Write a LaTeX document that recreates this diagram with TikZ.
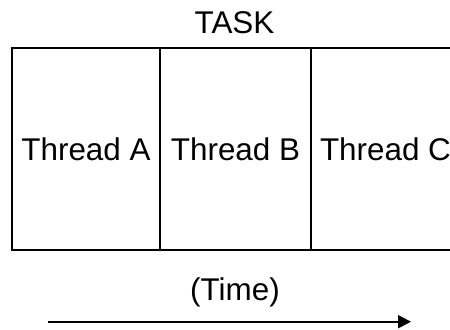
\documentclass[tikz,border=0pt]{standalone}
\usepackage{fontspec}
\setmainfont{Liberation Sans}
\usepackage{tikz}
\usetikzlibrary{arrows.meta}

\begin{document}
\begin{tikzpicture}[x=0.5pt,y=-0.5pt,font=\fontsize{15.7}{19}\selectfont]

\useasboundingbox(0,0) rectangle (450,329);
\clip(0,0) rectangle (450,329);
\node[draw,line width=0.8pt,minimum width=74pt,minimum height=101pt,inner sep=0pt](thA) at (86,149) {Thread A};
\node[draw,line width=0.8pt,minimum width=75.5pt,minimum height=101pt,inner sep=0pt](thB) at (235.5,149) {Thread B};
\node[draw,line width=0.8pt,minimum width=74.5pt,minimum height=101pt,inner sep=0pt](thC) at (385.5,149) {Thread C};
\node(task) at (234.5,22.5) {TASK};
\node[anchor=base](time) at (235,300) {(Time)};
\coordinate(t0) at (48,321.7);
\coordinate(t1) at (411,321.7);
\draw[line width=1pt,-{Triangle[length=6.5pt,width=6.5pt]}](t0)--(t1);

\end{tikzpicture}
\end{document}
